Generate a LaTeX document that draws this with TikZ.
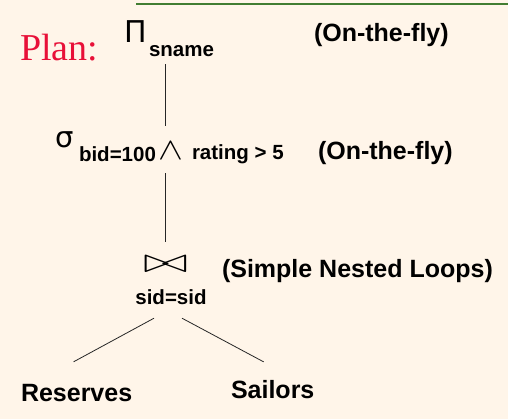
\documentclass[tikz,border=0pt]{standalone}
\usepackage{fontspec}
\setmainfont{Liberation Sans}
\newfontfamily\planfont{Liberation Serif}
\newfontfamily\symfont{DejaVu Sans}
\usepackage{graphicx}
\usetikzlibrary{positioning}

\definecolor{cream}{RGB}{255,245,233}
\definecolor{rulegreen}{RGB}{66,125,50}
\definecolor{planred}{RGB}{232,16,56}

\begin{document}
\begin{tikzpicture}[x=1pt,y=1pt,
    every node/.style={inner sep=0pt,outer sep=0pt},
    label/.style={font=\bfseries\fontsize{25}{30}\selectfont,anchor=base west},
    cond/.style={font=\bfseries\fontsize{20.5}{24}\selectfont,anchor=base west},
    op/.style={anchor=center,font=\Huge},
    edge/.style={thick,color=black!85}
]

% Background and top rule
\fill[cream] (0,0) rectangle (508,-419);
\useasboundingbox (0,0) rectangle (508,-419);
\draw[rulegreen,line width=1.6pt] (136,-4) -- (508,-4);

% Title
\node[anchor=base west,font=\planfont\fontsize{38}{44}\selectfont,color=planred] (plan) at (20,-61) {Plan:};

% Projection
\node[anchor=base,font=\symfont\fontsize{30}{34}\selectfont] (proj) at (136,-43) {Π};
\node[cond] (sname) at (149,-57) {sname};

% Selection
\node[anchor=base,font=\symfont\fontsize{29}{34}\selectfont] (sel) at (65,-148) {σ};
\node[cond] (bidcond) at (79,-162) {bid=100};
\node[op] (wedge) at (171,-150.5) {\scalebox{1.5}[1.25]{$\wedge$}};
\node[cond] (ratecond) at (192,-160) {rating > 5};

% Join
\node[op] (join) at (165.5,-264.5) {\scalebox{2.2}[1.4]{$\bowtie$}};
\node[cond,anchor=base] (sidcond) at (171,-305) {sid=sid};

% Relations
\node[label] (res) at (21,-401) {Reserves};
\node[label] (sail) at (231,-398) {Sailors};

% Annotations
\node[label] (fly1) at (314,-42) {(On-the-fly)};
\node[label] (fly2) at (318,-160) {(On-the-fly)};
\node[label] (snl) at (222,-277) {(Simple Nested Loops)};

% Connections
\draw[edge,shorten <=7pt,shorten >=16pt] (sname.south -| join.center) -- (wedge.north -| join.center);
\draw[edge,shorten <=11pt,shorten >=14pt] (bidcond.south -| join.center) -- (join.north);
\draw[edge] ([xshift=-17pt,yshift=-13pt]sidcond.south) -- ([xshift=-3pt,yshift=22pt]res.north);
\draw[edge] ([xshift=11pt,yshift=-13pt]sidcond.south) -- ([xshift=-9pt,yshift=18pt]sail.north);

\end{tikzpicture}
\end{document}
